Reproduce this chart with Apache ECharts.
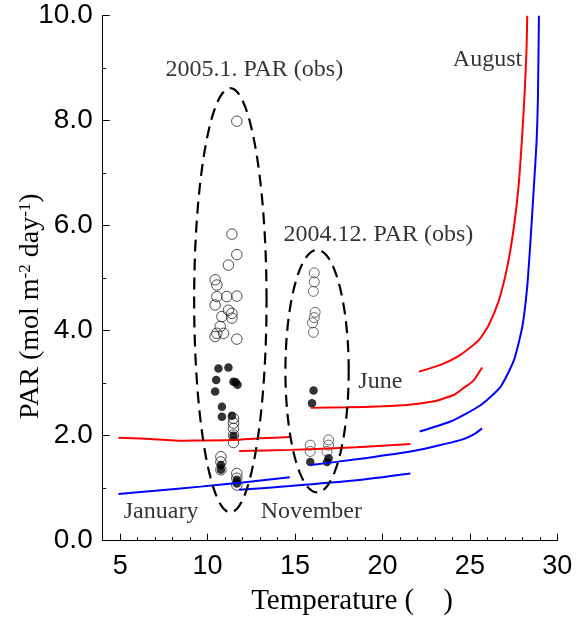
<!DOCTYPE html>
<html>
<head>
<meta charset="utf-8">
<script src="https://cdn.jsdelivr.net/npm/echarts@6/dist/echarts.min.js"></script>
<style>
  html, body { margin: 0; padding: 0; background: #fff; }
  #main { width: 587px; height: 619px; }
</style>
</head>
<body>
<div id="main"></div>
<script>
// tick labels
const xTickLabels = [5, 10, 15, 20, 25, 30];

// model curves, [temperature, PAR]
const janRed = [[4.9, 1.96], [6.5, 1.94], [8.6, 1.905], [10.0, 1.91], [11.5, 1.92], [13.0, 1.95], [14.7, 1.975]];
const janBlue = [[4.9, 0.89], [7.0, 0.95], [9.6, 1.03], [12.0, 1.11], [14.7, 1.21]];
const novRed = [[11.8, 1.71], [14.7, 1.73], [18.5, 1.78], [21.6, 1.84]];
const novBlue = [[11.8, 0.97], [14.7, 1.04], [18.5, 1.15], [21.6, 1.28]];
const junRed = [[15.9, 2.53], [18.0, 2.54], [20.0, 2.56], [21.5, 2.59], [22.9, 2.65], [23.5, 2.71], [24.1, 2.78], [24.6, 2.9], [25.2, 3.05], [25.7, 3.3]];
const junBlue = [[15.9, 1.44], [18.5, 1.55], [21.6, 1.7], [22.9, 1.79], [24.5, 1.92], [25.2, 2.02], [25.7, 2.14]];
const augRed = [[22.08, 3.22], [23.32, 3.35], [24.46, 3.54], [25.51, 3.82], [26.08, 4.11], [26.66, 4.58], [27.14, 5.22],
  [27.52, 5.98], [27.8, 6.81], [28.0, 7.76], [28.13, 8.52], [28.24, 9.35], [28.28, 10.0]];
const augBlue = [[22.13, 2.08], [23.89, 2.27], [25.61, 2.58], [26.75, 2.93], [27.52, 3.44], [28.0, 4.08], [28.28, 4.84],
  [28.47, 5.73], [28.66, 6.74], [28.82, 7.63], [28.89, 8.39], [28.95, 10.0]];

// observations 2005.1
const janOpen = [[11.67, 7.99], [11.39, 5.84], [11.67, 5.45], [11.19, 5.25], [10.43, 4.97], [10.53, 4.87], [10.53, 4.65],
  [11.1, 4.65], [11.67, 4.66], [10.43, 4.49], [11.19, 4.39], [11.39, 4.33], [10.82, 4.27], [11.39, 4.24], [10.72, 4.08],
  [10.53, 3.95], [10.43, 3.89], [10.91, 3.95], [11.67, 3.84],
  [11.48, 2.33], [11.48, 2.24], [11.48, 2.14], [11.48, 2.01], [11.48, 1.87],
  [10.76, 1.6], [10.76, 1.5], [10.76, 1.35], [11.67, 1.28], [11.67, 1.19], [11.67, 1.06]];
const janFilled = [[10.62, 3.28], [11.19, 3.3], [10.49, 3.06], [11.48, 3.03], [11.71, 2.97], [11.6, 3.02], [10.43, 2.84],
  [10.82, 2.55], [10.82, 2.36], [11.39, 2.38], [11.48, 2.0], [10.76, 1.44], [10.76, 1.35], [11.67, 1.16], [11.67, 1.09]];

// observations 2004.12
const decOpen = [[16.1, 5.1], [16.1, 4.93], [16.05, 4.75], [16.15, 4.35], [16.1, 4.25], [16.0, 4.15], [16.05, 3.97],
  [15.87, 1.82], [15.87, 1.7], [16.92, 1.92], [16.92, 1.82], [16.83, 1.7]];
const decFilled = [[16.06, 2.86], [15.97, 2.62], [15.87, 1.5], [16.92, 1.57], [16.83, 1.5]];

// dashed ellipses [cx, cy, rx, ry]
const ellipses = [[11.3, 4.58, 2.07, 4.04], [16.26, 3.23, 1.81, 2.31]];

// text annotations [x, y, text]
const notes = [
  [12.67, 8.97, '2005.1. PAR (obs)'],
  [19.77, 5.82, '2004.12. PAR (obs)'],
  [26.01, 9.16, 'August'],
  [19.88, 3.03, 'June'],
  [7.34, 0.545, 'January'],
  [15.93, 0.545, 'November']
];

const serif = 'Liberation Serif, Times New Roman, serif';
const sans = 'Liberation Sans, Arial, sans-serif';

function curve(data, color) {
  return {
    type: 'line',
    data,
    showSymbol: false,
    smooth: 0.2,
    lineStyle: { color, width: 2 },
    silent: true,
    z: 3,
  };
}

const chart = echarts.init(document.getElementById('main'), null, { renderer: 'canvas' });

const option = {
  animation: false,
  grid: {
    left: 102.7, right: 29.7, top: 15.7, bottom: 78.3, outerBoundsMode: 'none',
  },
  xAxis: [{
    type: 'value',
    min: 4,
    max: 30,
    interval: 1,
    name: 'Temperature (    )',
    nameLocation: 'middle',
    nameGap: 46,
    nameMoveOverlap: false,
    nameTextStyle: {
      fontFamily: serif, fontSize: 29, color: '#000', padding: [0, 0, 0, 44],
    },
    axisLine: { lineStyle: { color: '#000', width: 1 } },
    axisTick: { inside: true, length: 3.5, lineStyle: { color: '#000' } },
    axisLabel: {
      fontFamily: sans,
      fontSize: 27,
      color: '#000',
      margin: 12,
      formatter: v => (xTickLabels.indexOf(v) >= 0 ? String(v) : ''),
    },
    splitLine: { show: false },
  }, {
    type: 'value',
    min: 4,
    max: 30,
    interval: 1,
    position: 'bottom',
    axisLine: { show: false },
    axisTick: { inside: true, length: 7, customValues: xTickLabels, lineStyle: { color: '#000' } },
    axisLabel: { show: false },
    splitLine: { show: false },
  }],
  yAxis: {
    type: 'value',
    min: 0,
    max: 10,
    interval: 2,
    name: '{a|PAR (mol m}{s|-2}{a| day}{s|-1}{a|)}',
    nameLocation: 'middle',
    nameGap: 58,
    nameMoveOverlap: false,
    nameTextStyle: {
      padding: [0, 56, 0, 0],
      rich: {
        a: { fontFamily: serif, fontSize: 28, color: '#000' },
        s: { fontFamily: serif, fontSize: 17, color: '#000', verticalAlign: 'top' },
      },
    },
    axisLine: { show: true, lineStyle: { color: '#000', width: 1 } },
    axisTick: { show: true, inside: true, length: 7, lineStyle: { color: '#000' } },
    minorTick: { show: true, splitNumber: 2, length: 3.5, lineStyle: { color: '#000' } },
    axisLabel: {
      fontFamily: sans, fontSize: 28, color: '#000', margin: 10, formatter: v => v.toFixed(1),
    },
    splitLine: { show: false },
  },
  series: [
    {
      type: 'scatter',
      data: janOpen,
      symbol: 'circle',
      symbolSize: 10.5,
      itemStyle: { color: 'rgba(0,0,0,0)', borderColor: '#222', borderWidth: 1 },
      silent: true,
      z: 2,
    },
    {
      type: 'scatter',
      data: decOpen,
      symbol: 'circle',
      symbolSize: 10,
      itemStyle: { color: 'rgba(0,0,0,0)', borderColor: '#444', borderWidth: 1 },
      silent: true,
      z: 2,
    },
    {
      type: 'scatter',
      data: janFilled.concat(decFilled),
      symbol: 'circle',
      symbolSize: 8.5,
      itemStyle: { color: '#000' },
      silent: true,
      z: 2,
    },
    curve(janRed, '#ff0000'),
    curve(janBlue, '#0000ff'),
    curve(novRed, '#ff0000'),
    curve(novBlue, '#0000ff'),
    curve(junRed, '#ff0000'),
    curve(junBlue, '#0000ff'),
    curve(augRed, '#ff0000'),
    curve(augBlue, '#0000ff'),
    {
      type: 'custom',
      data: ellipses,
      encode: { x: 0, y: 1 },
      silent: true,
      z: 4,
      renderItem: (params, api) => {
        const cx = api.value(0);
        const cy = api.value(1);
        const rx = api.value(2);
        const ry = api.value(3);
        const points = [];
        for (let i = 0; i <= 120; i += 1) {
          const t = (i / 120) * Math.PI * 2;
          points.push(api.coord([cx + rx * Math.cos(t), cy + ry * Math.sin(t)]));
        }
        return {
          type: 'polyline',
          shape: { points },
          style: {
            stroke: '#000', lineWidth: 2.2, lineDash: [12, 7], fill: null,
          },
        };
      },
    },
    {
      type: 'scatter',
      data: notes,
      symbolSize: 0,
      silent: true,
      z: 5,
      label: {
        show: true,
        position: 'inside',
        formatter: p => p.data[2],
        fontFamily: serif,
        fontSize: 24,
        color: '#000',
      },
    },
  ],
};

chart.setOption(option);
</script>
</body>
</html>
